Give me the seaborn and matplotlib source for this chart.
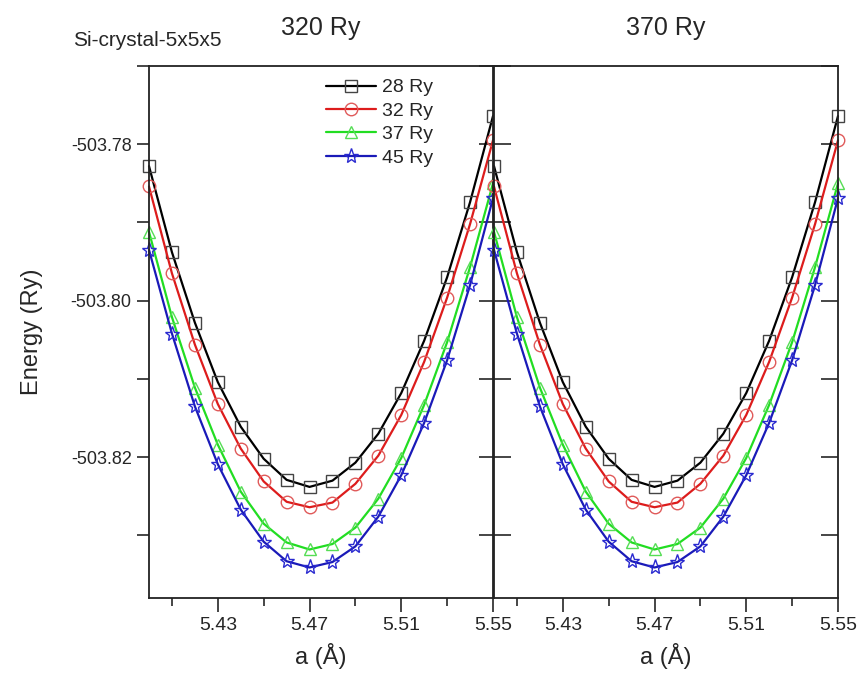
import numpy as np
import pandas as pd
import seaborn as sns
import matplotlib.pyplot as plt
from matplotlib.ticker import MultipleLocator, FixedLocator

# lattice constant (Angstrom)
lattice = [5.40, 5.41, 5.42, 5.43, 5.44, 5.45, 5.46, 5.47,
           5.48, 5.49, 5.50, 5.51, 5.52, 5.53, 5.54, 5.55]

# total energy (Ry) for each wavefunction cutoff
e_28 = [-503.7828, -503.7938, -503.8028, -503.8104, -503.8161, -503.8202, -503.8229, -503.8238,
        -503.8230, -503.8207, -503.8170, -503.8118, -503.8051, -503.7970, -503.7874, -503.7764]
e_32 = [-503.7854, -503.7965, -503.8056, -503.8132, -503.8189, -503.8231, -503.8257, -503.8264,
        -503.8258, -503.8234, -503.8198, -503.8146, -503.8078, -503.7996, -503.7902, -503.7795]
e_37 = [-503.7912, -503.8021, -503.8111, -503.8184, -503.8244, -503.8285, -503.8309, -503.8318,
        -503.8311, -503.8290, -503.8253, -503.8201, -503.8133, -503.8053, -503.7957, -503.7850]
e_45 = [-503.7935, -503.8042, -503.8135, -503.8209, -503.8267, -503.8308, -503.8333, -503.8341,
        -503.8334, -503.8314, -503.8276, -503.8223, -503.8156, -503.8076, -503.7980, -503.7869]

labels = ['28 Ry', '32 Ry', '37 Ry', '45 Ry']
panels = ['320 Ry', '370 Ry']

sns.set_style('ticks')
plt.rcParams['font.family'] = ['Liberation Sans', 'DejaVu Sans']

styles = [
    ('s', '#000000', '#444444'),
    ('o', '#dd1c1c', '#e05a5a'),
    ('^', '#22dd22', '#55dd55'),
    ('*', '#1a1ab8', '#2a2ad0'),
]

fig = plt.figure(figsize=(8.59, 6.77), dpi=100)
ax1 = fig.add_axes([149 / 859, 79 / 677, 344 / 859, 532 / 677])
ax2 = fig.add_axes([494 / 859, 79 / 677, 344 / 859, 532 / 677], sharey=ax1)

for ax, panel in zip([ax1, ax2], panels):
    for lab, vals, (mk, lc, mc) in zip(labels, [e_28, e_32, e_37, e_45], styles):
        df = pd.DataFrame({'a': lattice, 'E': vals})
        sns.lineplot(data=df, x='a', y='E', ax=ax, color=lc, lw=1.6,
                     marker=mk, markersize=11 if mk == '*' else 9,
                     markerfacecolor='none', markeredgecolor=mc,
                     markeredgewidth=1.0, label=lab, legend=False, clip_on=False)
    ax.set_xlim(5.40, 5.55)
    ax.set_ylim(-503.838, -503.770)
    ax.xaxis.set_major_locator(FixedLocator([5.43, 5.47, 5.51, 5.55]))
    ax.xaxis.set_minor_locator(FixedLocator([5.41, 5.45, 5.49, 5.53]))
    ax.xaxis.set_major_formatter(plt.FormatStrFormatter('%.2f'))
    ax.yaxis.set_major_locator(MultipleLocator(0.02))
    ax.yaxis.set_minor_locator(MultipleLocator(0.01))
    ax.yaxis.set_major_formatter(plt.FormatStrFormatter('%.2f'))
    ax.tick_params(axis='x', which='major', direction='out', length=10, width=1.2,
                   labelsize=14, pad=4)
    ax.tick_params(axis='x', which='minor', direction='out', length=6, width=1.2)
    for s in ax.spines.values():
        s.set_linewidth(1.3)
        s.set_color('#222222')
    ax.set_xlabel('a (Å)', fontsize=17, labelpad=6)
    ax.set_ylabel('')
    ax.set_title(panel, fontsize=18, pad=22)

ax1.tick_params(axis='y', which='both', left=True, right=False, direction='out',
                length=9, width=1.2, labelsize=13)
sec = ax1.secondary_yaxis('right')
sec.yaxis.set_major_locator(MultipleLocator(0.01))
sec.tick_params(axis='y', direction='in', length=10, width=1.2, labelright=False)

ax2.tick_params(axis='y', which='both', left=True, right=True, direction='in',
                length=12, width=1.2, labelleft=False)

ax1.set_ylabel('Energy (Ry)', fontsize=17, labelpad=20)

ax1.legend(loc='upper left', bbox_to_anchor=(0.48, 0.998), frameon=False,
           fontsize=14, handlelength=2.6, handletextpad=0.3, labelspacing=0.3,
           borderaxespad=0.2)

fig.text(73 / 859, 1 - 40 / 677, 'Si-crystal-5x5x5', fontsize=15, va='center', ha='left')

fig.savefig('out.png', dpi=100)
